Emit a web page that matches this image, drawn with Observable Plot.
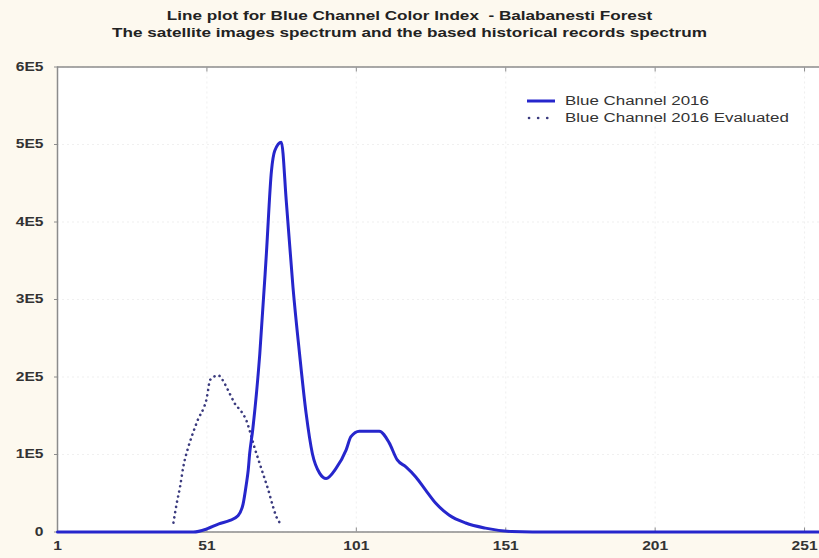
<!DOCTYPE html>
<html>
<head>
<meta charset="utf-8">
<script src="https://cdn.jsdelivr.net/npm/d3@7"></script>
<script src="https://cdn.jsdelivr.net/npm/@observablehq/plot@0.6"></script>
<style>
  body { margin: 0; background: #fdf9ef; }
  #wrap { position: relative; width: 819px; height: 558px; overflow: hidden; background: #fdf9ef; font-family: "Liberation Sans", Arial, sans-serif; }
  #title { position: absolute; top: 8px; left: 0; width: 819px; text-align: center; font-weight: bold; font-size: 12.5px; line-height: 16.5px; color: #222; white-space: pre; transform: scaleX(1.37); transform-origin: 409.5px 0; }
  #chart { position: absolute; top: 50px; left: 0; }
  #legend { position: absolute; left: 526px; top: 92px; font-size: 12px; color: #333; line-height: 18px; }
  #legend div { display: flex; align-items: center; height: 17px; }
  #legend svg { margin-right: 9px; }
  #legend span { display: inline-block; transform: scaleX(1.41); transform-origin: 0 50%; white-space: pre; }
</style>
</head>
<body>
<div id="wrap">
  <div id="title"></div>
  <div id="chart"></div>
  <div id="legend"></div>
</div>
<script>
const titleLines = [
  "Line plot for Blue Channel Color Index  - Balabanesti Forest",
  "The satellite images spectrum and the based historical records spectrum"
];
const seriesNames = ["Blue Channel 2016", "Blue Channel 2016 Evaluated"];

// Blue Channel 2016 (solid)
const xSolid = [1, 44, 46.5, 51, 55, 58.7, 61.4, 63.1, 64.2, 64.8, 65.3, 66.3, 68.7, 70.9, 72.6, 73.7, 75.9, 77.6, 79.8, 82, 84.2, 86.3, 88.7, 90.9, 94.2, 97.6, 99.2, 102, 108.7, 112, 114.7, 117.6, 120.9, 124.2, 127.6, 132, 137.6, 144.2, 153, 160, 256];
const ySolid = [0, 0, 0, 4000, 10500, 15000, 21000, 36000, 62000, 79000, 101000, 131000, 230000, 359000, 466000, 492000, 503000, 425000, 316000, 230000, 153000, 101000, 76000, 69000, 82000, 106000, 123000, 130000, 130000, 115000, 93000, 84000, 71000, 54000, 37000, 22000, 11600, 5000, 600, 0, 0];

// Blue Channel 2016 Evaluated (dotted)
const xEval = [39.8, 40.9, 42, 43.1, 44.8, 45.9, 47, 48.1, 49.8, 50.9, 51.4, 52, 54.8, 57, 58.7, 60.3, 62.6, 64.2, 65.3, 67, 68.1, 69.2, 70.3, 71.4, 73.1, 74.2, 76.2];
const yEval = [12000, 37000, 58000, 84000, 110000, 123000, 135000, 146000, 159000, 172000, 183000, 196000, 202000, 191000, 178000, 166000, 155000, 144000, 131000, 108000, 95000, 82000, 69000, 56000, 33000, 20000, 9000];

const xTicks = [1, 51, 101, 151, 201, 251];
const yTicks = [0, 100000, 200000, 300000, 400000, 500000, 600000];
const xDomain = [1, 256];
const yDomain = [0, 600000];

const solid = xSolid.map((x, i) => ({x, y: ySolid[i]}));
const evald = xEval.map((x, i) => ({x, y: yEval[i]}));

const blue = "#2626cc";
const dotCol = "#3a3a7e";
const frameCol = "#8c8c8c";

document.getElementById("title").textContent = titleLines.join("\n");

const fmtY = d => d === 0 ? "0" : (d / 100000) + "E5";

const chart = Plot.plot({
  width: 819,
  height: 508,
  marginLeft: 57,
  marginRight: 0,
  marginTop: 16.5,
  marginBottom: 26.5,
  style: {background: "transparent", fontFamily: "Liberation Sans, Arial, sans-serif", fontSize: "12px", fontWeight: "bold", color: "#333"},
  x: {domain: xDomain},
  y: {domain: yDomain},
  marks: [
    Plot.frame({fill: "white", stroke: "none"}),
    Plot.gridX(xTicks, {stroke: "#e2e2e2", strokeOpacity: 0.5, strokeDasharray: "2,3"}),
    Plot.gridY(yTicks, {stroke: "#e2e2e2", strokeOpacity: 0.5, strokeDasharray: "2,3"}),
    Plot.ruleX([xDomain[0]], {stroke: frameCol, strokeWidth: 1.5}),
    Plot.ruleY([yDomain[1]], {stroke: frameCol, strokeWidth: 1.5}),
    Plot.ruleY([yDomain[0]], {stroke: frameCol, strokeWidth: 1.5}),
    Plot.axisX(xTicks, {anchor: "bottom", tickSize: 0, tickPadding: 9, label: null, fill: "#333", fontWeight: "bold", fontSize: 12}),
    Plot.axisX(xTicks, {anchor: "bottom", tickSize: 4, text: null, dy: -4, stroke: frameCol, label: null}),
    Plot.axisX(xTicks, {anchor: "top", tickSize: 4, text: null, dy: 4, stroke: frameCol, label: null}),
    Plot.axisY(yTicks, {anchor: "left", tickSize: 3, tickPadding: 11, tickFormat: fmtY, label: null, stroke: frameCol, fill: "#333", fontWeight: "bold", fontSize: 12}),
    Plot.line(evald, {x: "x", y: "y", stroke: dotCol, strokeWidth: 2.6, strokeDasharray: "0.1,5.2", strokeLinecap: "round", curve: "monotone-x"}),
    Plot.line(solid, {x: "x", y: "y", stroke: blue, strokeWidth: 3, curve: "monotone-x"})
  ]
});

// widen tick label glyphs to match the reference's stretched lettering
chart.querySelectorAll('g[aria-label$="tick label"] text').forEach(el => {
  const t = el.getAttribute("transform");
  if (t) {
    el.setAttribute("transform", t + " scale(1.3,1)");
  } else {
    const x = el.getAttribute("x") || 0, y = el.getAttribute("y") || 0;
    el.removeAttribute("x"); el.removeAttribute("y");
    el.setAttribute("transform", `translate(${x},${y}) scale(1.3,1)`);
  }
});
document.getElementById("chart").appendChild(chart);

// legend
const leg = document.getElementById("legend");
leg.innerHTML = `
<div><svg width="30" height="6"><line x1="1" y1="3" x2="29" y2="3" stroke="${blue}" stroke-width="3"/></svg><span>${seriesNames[0]}</span></div>
<div><svg width="30" height="6"><line x1="3" y1="3" x2="29" y2="3" stroke="${dotCol}" stroke-width="2.6" stroke-dasharray="0.1,9" stroke-linecap="round"/></svg><span>${seriesNames[1]}</span></div>`;
</script>
</body>
</html>
